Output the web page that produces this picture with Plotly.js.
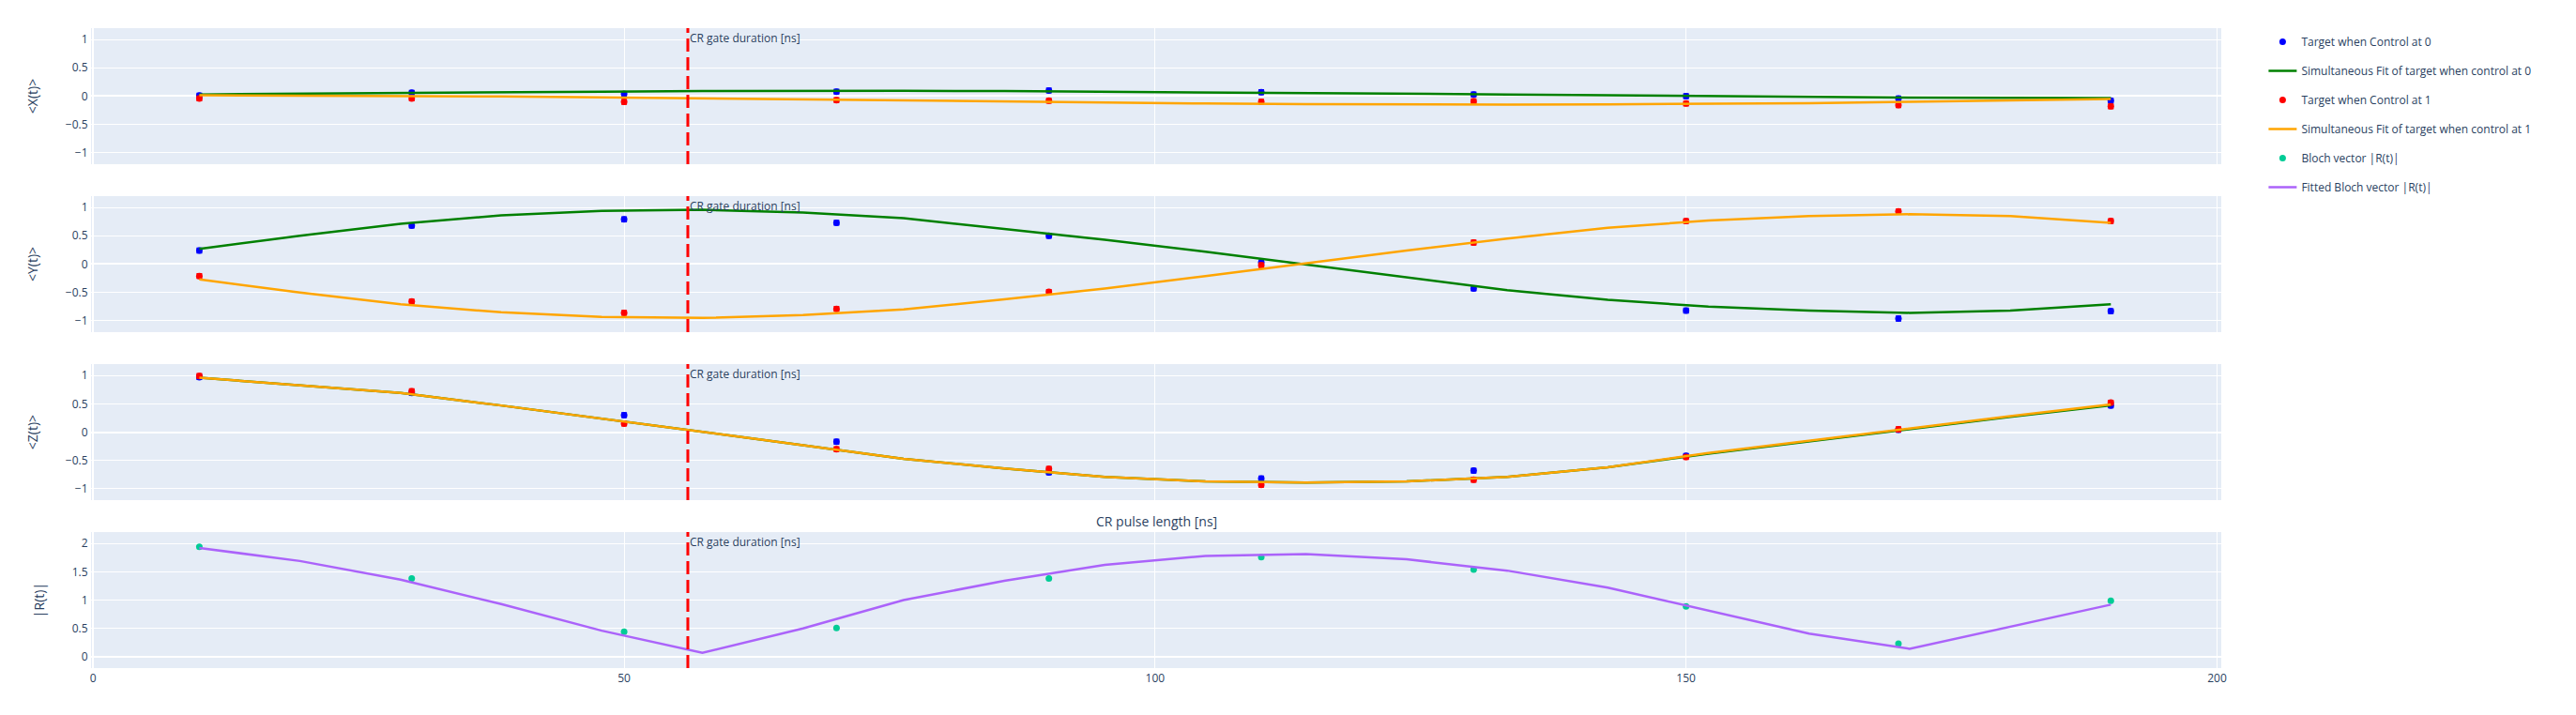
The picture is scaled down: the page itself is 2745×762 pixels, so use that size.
<!DOCTYPE html>
<html><head><meta charset="utf-8">
<script src="https://cdn.plot.ly/plotly-3.0.1.min.js"></script>
<style>html,body{margin:0;padding:0;background:#fff}#chart{width:2745px;height:762px}</style>
</head><body><div id="chart"></div>
<script>
// ---- data ----
const pulseLengths = [10, 30, 50, 70, 90, 110, 130, 150, 170, 190];
const fitLengths = [10, 19.47, 28.95, 38.42, 47.89, 57.37, 66.84, 76.32, 85.79, 95.26,
                    104.74, 114.21, 123.68, 133.16, 142.63, 152.11, 161.58, 171.05, 180.53, 190];

const xCtrl0 = [0.01, 0.06, 0.04, 0.08, 0.10, 0.07, 0.03, 0.00, -0.04, -0.08];
const xCtrl1 = [-0.04, -0.04, -0.10, -0.07, -0.08, -0.10, -0.09, -0.13, -0.16, -0.18];
const yCtrl0 = [0.24, 0.68, 0.79, 0.73, 0.50, 0.03, -0.43, -0.82, -0.96, -0.83];
const yCtrl1 = [-0.21, -0.66, -0.86, -0.79, -0.49, -0.02, 0.38, 0.76, 0.93, 0.76];
const zCtrl0 = [0.97, 0.69, 0.30, -0.17, -0.71, -0.82, -0.68, -0.42, 0.04, 0.47];
const zCtrl1 = [0.99, 0.72, 0.15, -0.30, -0.65, -0.93, -0.84, -0.44, 0.05, 0.52];
const errCtrl0 = [0.04, 0.04, 0.04, 0.04, 0.04, 0.04, 0.04, 0.04, 0.04, 0.04];
const errCtrl1 = [0.04, 0.04, 0.04, 0.04, 0.04, 0.04, 0.04, 0.04, 0.04, 0.04];
const blochR = [1.94, 1.38, 0.44, 0.51, 1.38, 1.76, 1.54, 0.89, 0.23, 0.99];

const fitX0 = [0.03, 0.045, 0.06, 0.07, 0.08, 0.09, 0.095, 0.095, 0.09, 0.08, 0.065, 0.05, 0.04, 0.03, 0.015, 0.0, -0.015, -0.025, -0.03, -0.035];
const fitX1 = [0.015, 0.01, 0.005, -0.005, -0.02, -0.04, -0.055, -0.07, -0.09, -0.11, -0.13, -0.14, -0.15, -0.15, -0.145, -0.14, -0.125, -0.10, -0.075, -0.05];
const fitY0 = [0.27, 0.50, 0.71, 0.86, 0.94, 0.96, 0.91, 0.81, 0.62, 0.43, 0.22, -0.01, -0.24, -0.46, -0.63, -0.75, -0.82, -0.86, -0.82, -0.71];
const fitY1 = [-0.27, -0.50, -0.71, -0.85, -0.93, -0.95, -0.90, -0.80, -0.62, -0.43, -0.21, 0.02, 0.24, 0.45, 0.64, 0.77, 0.85, 0.88, 0.85, 0.73];
const fitZ0 = [0.96, 0.83, 0.69, 0.47, 0.24, 0.0, -0.23, -0.47, -0.64, -0.79, -0.87, -0.89, -0.87, -0.79, -0.62, -0.38, -0.16, 0.06, 0.27, 0.47];
const fitZ1 = [0.96, 0.83, 0.69, 0.47, 0.24, 0.0, -0.23, -0.47, -0.64, -0.79, -0.87, -0.89, -0.87, -0.79, -0.62, -0.37, -0.15, 0.07, 0.28, 0.49];
const fitR = [1.92, 1.69, 1.36, 0.93, 0.46, 0.07, 0.50, 1.00, 1.34, 1.62, 1.78, 1.81, 1.72, 1.52, 1.22, 0.81, 0.41, 0.14, 0.53, 0.92];

const gateDuration = 56;

const names = {
  c0: 'Target when Control at 0',
  f0: 'Simultaneous Fit of target when control at 0',
  c1: 'Target when Control at 1',
  f1: 'Simultaneous Fit of target when control at 1',
  r: 'Bloch vector |R(t)|',
  fr: 'Fitted Bloch vector |R(t)|'
};
const yTitles = ['&lt;X(t)&gt;', '&lt;Y(t)&gt;', '&lt;Z(t)&gt;', '|R(t)|'];

// ---- traces ----
const traces = [];
function markerTrace(y, err, color, key, row, show) {
  return {
    x: pulseLengths, y: y, type: 'scatter', mode: 'markers',
    name: names[key], legendgroup: key, showlegend: show,
    marker: {color: color, size: 7},
    error_y: {type: 'data', array: err, visible: true, color: color, thickness: 1.5, width: 3},
    xaxis: 'x' + (row === 1 ? '' : row), yaxis: 'y' + (row === 1 ? '' : row)
  };
}
function lineTrace(y, color, key, row, show) {
  return {
    x: fitLengths, y: y, type: 'scatter', mode: 'lines',
    name: names[key], legendgroup: key, showlegend: show,
    line: {color: color, width: 2.5},
    xaxis: 'x' + (row === 1 ? '' : row), yaxis: 'y' + (row === 1 ? '' : row)
  };
}
const rows = [
  {c0: xCtrl0, c1: xCtrl1, f0: fitX0, f1: fitX1},
  {c0: yCtrl0, c1: yCtrl1, f0: fitY0, f1: fitY1},
  {c0: zCtrl0, c1: zCtrl1, f0: fitZ0, f1: fitZ1}
];
rows.forEach((r, i) => {
  const row = i + 1, show = i === 0;
  traces.push(markerTrace(r.c0, errCtrl0, 'blue', 'c0', row, show));
  traces.push(lineTrace(r.f0, 'green', 'f0', row, show));
  traces.push(markerTrace(r.c1, errCtrl1, 'red', 'c1', row, show));
  traces.push(lineTrace(r.f1, 'orange', 'f1', row, show));
});
traces.push({
  x: pulseLengths, y: blochR, type: 'scatter', mode: 'markers',
  name: names.r, legendgroup: 'r', marker: {color: '#00cc96', size: 7},
  xaxis: 'x4', yaxis: 'y4'
});
traces.push(lineTrace(fitR, '#ab63fa', 'fr', 4, true));

// ---- layout ----
const h = 0.2125, gap = 0.05;
const layout = {
  width: 2745, height: 762,
  margin: {l: 97, r: 378, t: 30, b: 50},
  paper_bgcolor: 'white', plot_bgcolor: '#E5ECF6',
  font: {family: '"Open Sans", verdana, arial, sans-serif', size: 12, color: '#2a3f5f'},
  legend: {tracegroupgap: 12, font: {size: 12}},
  hovermode: 'closest',
  shapes: [], annotations: []
};
for (let i = 1; i <= 4; i++) {
  const sfx = i === 1 ? '' : String(i);
  const top = 1 - (i - 1) * (h + gap);
  layout['xaxis' + sfx] = {
    domain: [0, 1], anchor: 'y' + sfx, range: [-0.2, 200.4], dtick: 50, tick0: 0,
    gridcolor: 'white', zerolinecolor: 'white', zerolinewidth: 2, linecolor: 'white',
    showticklabels: i === 4, ticks: ''
  };
  if (i < 4) layout['xaxis' + sfx].matches = 'x4';
  layout['yaxis' + sfx] = {
    domain: [top - h, top], anchor: 'x' + sfx,
    range: i === 4 ? [-0.2, 2.2] : [-1.2, 1.2], dtick: 0.5,
    gridcolor: 'white', zerolinecolor: 'white', zerolinewidth: 2, linecolor: 'white', ticks: '',
    automargin: true,
    title: {text: yTitles[i - 1], font: {size: 14}, standoff: 25}
  };
  layout.shapes.push({
    type: 'line', xref: 'x' + sfx, yref: 'y' + sfx + ' domain',
    x0: gateDuration, x1: gateDuration, y0: 0, y1: 1,
    line: {color: 'red', width: 3, dash: '14px,6px'}
  });
  layout.annotations.push({
    xref: 'x' + sfx, yref: 'y' + sfx + ' domain', x: gateDuration, y: 1,
    xanchor: 'left', yanchor: 'top', showarrow: false, text: 'CR gate duration [ns]'
  });
}
layout.annotations.push({
  xref: 'paper', yref: 'paper', x: 0.5, y: h, xanchor: 'center', yanchor: 'bottom',
  showarrow: false, text: 'CR pulse length [ns]', font: {size: 14}
});

Plotly.newPlot('chart', traces, layout, {displayModeBar: false});
</script>
</body></html>
